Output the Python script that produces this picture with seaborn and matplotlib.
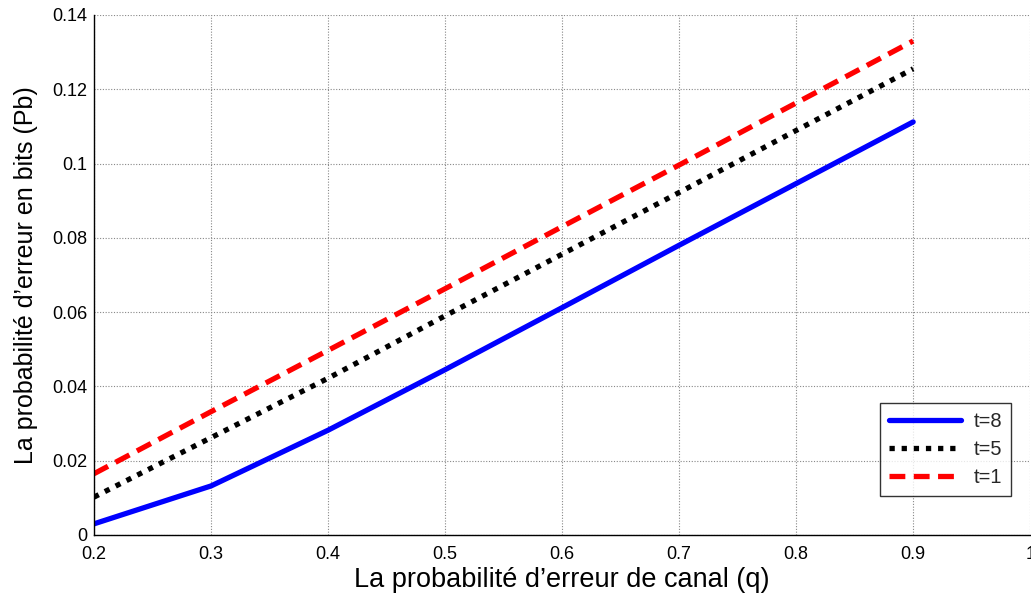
import matplotlib
matplotlib.use("Agg")
import matplotlib.pyplot as plt
import seaborn as sns
import pandas as pd

q = [0.2, 0.3, 0.4, 0.5, 0.6, 0.7, 0.8, 0.9]
pb_t8 = [0.0030, 0.0132, 0.0282, 0.0445, 0.0612, 0.0780, 0.0946, 0.1112]
pb_t5 = [0.0102, 0.0262, 0.0422, 0.0590, 0.0756, 0.0922, 0.1089, 0.1255]
pb_t1 = [0.0165, 0.0332, 0.0497, 0.0663, 0.0830, 0.0996, 0.1163, 0.1330]
labels = ["t=8", "t=5", "t=1"]

sns.set_theme(style="white")
plt.rcParams['font.family'] = ['Liberation Sans', 'DejaVu Sans']

df = pd.concat([
    pd.DataFrame({"q": q, "Pb": v, "t": lab})
    for v, lab in zip([pb_t8, pb_t5, pb_t1], labels)
])

fig = plt.figure(figsize=(10.31, 5.98), dpi=100)
ax = fig.add_axes([0.0912, 0.1054, 0.908, 0.8696])

styles = {
    "t=8": dict(color="#0000ff", linestyle="-", linewidth=3.8),
    "t=5": dict(color="black", linestyle=(0, (1, 1.3)), linewidth=3.8),
    "t=1": dict(color="#ff0000", linestyle=(0, (3, 1.6)), linewidth=3.8),
}
for lab in labels:
    sub = df[df["t"] == lab]
    sns.lineplot(data=sub, x="q", y="Pb", ax=ax, label=lab, **styles[lab])

ax.set_xlim(0.2, 1.0)
ax.set_ylim(0, 0.14)
ax.set_xticks([0.2, 0.3, 0.4, 0.5, 0.6, 0.7, 0.8, 0.9, 1.0])
ax.set_xticklabels(["0.2", "0.3", "0.4", "0.5", "0.6", "0.7", "0.8", "0.9", "1"])
ax.set_yticks([0, 0.02, 0.04, 0.06, 0.08, 0.1, 0.12, 0.14])
ax.set_yticklabels(["0", "0.02", "0.04", "0.06", "0.08", "0.1", "0.12", "0.14"])
ax.tick_params(direction="in", length=5, labelsize=13, colors="black", width=1)
ax.tick_params(axis="x", pad=8)
ax.tick_params(axis="y", pad=5)
ax.grid(True, color="#888888", linestyle=(0, (1, 1.5)), linewidth=0.8)
for s in ["left", "bottom"]:
    ax.spines[s].set_color("black")
    ax.spines[s].set_linewidth(1)
ax.spines["top"].set_visible(False)
ax.spines["right"].set_visible(False)

ax.set_xlabel("La probabilité d’erreur de canal (q)", fontsize=19.5, color="black", labelpad=3)
ax.set_ylabel("La probabilité d’erreur en bits (Pb)", fontsize=18, color="black", labelpad=10)

leg = ax.legend(loc="lower right", bbox_to_anchor=(0.9797, 0.075), borderaxespad=0,
                fontsize=14.5, frameon=True, fancybox=False, edgecolor="black",
                handlelength=3.6, borderpad=0.45, labelspacing=0.45, handletextpad=0.6)
leg.get_frame().set_linewidth(1)

fig.savefig("out.png", dpi=100)
